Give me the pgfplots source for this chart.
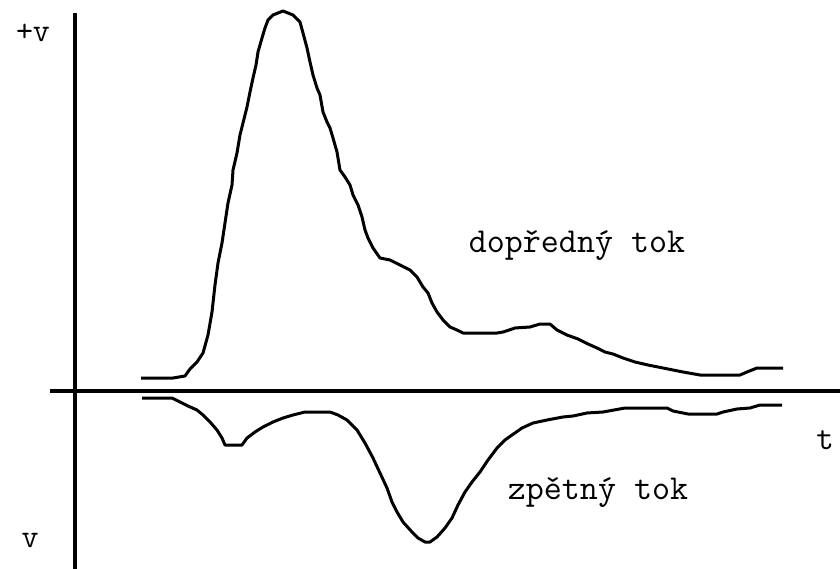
\documentclass[border=0pt]{standalone}
\usepackage{fontspec}
\setmainfont{Latin Modern Mono}
\usepackage{pgfplots}
\pgfplotsset{compat=1.18}
\begin{document}
\begin{tikzpicture}
\begin{axis}[
  scale only axis, width=840pt, height=569pt,
  xmin=0, xmax=840, ymin=0, ymax=569, y dir=reverse,
  hide axis, clip=true,
]
% axes
\addplot[black, line width=4pt] coordinates {(75,13) (75,575)};
\addplot[black, line width=4pt] coordinates {(50,391) (845,391)};
% forward flow
\addplot[black, line width=3pt, line join=round] coordinates {
(141,378) (173,378) (185,376) (190,369) (197,362) (203,353) (208,335) (212,312)
(215,285) (218,263) (222,243) (225,223) (228,203) (232,185) (233,170) (237,153)
(240,135) (243,123) (247,107) (250,92) (253,78) (256,65) (258,52) (262,38)
(265,28) (268,20) (273,15) (278,13) (283,11) (288,13) (293,15) (300,22)
(303,33) (307,48) (310,62) (313,75) (317,88) (320,95) (323,112) (327,122)
(330,128) (333,138) (337,152) (340,170) (345,177) (350,185) (353,195) (358,205)
(362,217) (365,230) (368,238) (373,248) (380,258) (390,260) (400,265) (410,270)
(417,277) (423,287) (428,293) (432,303) (437,312) (443,320) (450,327) (457,330)
(463,333) (497,333) (503,332) (515,328) (530,327) (540,324) (550,324) (557,330)
(567,335) (578,339) (588,344) (597,348) (605,352) (613,354) (623,358) (635,362)
(648,365) (663,368) (683,372) (700,375) (740,375) (747,372) (757,368) (783,368)
};
% reverse flow
\addplot[black, line width=3pt, line join=round] coordinates {
(142,398) (172,398) (180,402) (188,406) (197,410) (203,415) (210,422) (217,430)
(222,438) (225,445) (242,445) (247,438) (255,432) (263,427) (273,422) (283,418)
(293,415) (305,412) (330,412) (338,415) (347,420) (357,430) (365,443) (373,458)
(380,473) (387,488) (392,502) (397,512) (403,522) (412,532) (418,538) (425,542)
(430,542) (437,537) (445,528) (452,518) (458,505) (465,492) (472,482) (480,472)
(488,460) (497,448) (505,440) (512,435) (522,428) (533,423) (547,420) (563,417)
(573,416) (587,413) (603,412) (625,408) (667,408) (673,411) (688,414) (717,414)
(723,412) (737,409) (750,408) (760,405) (782,405)
};
\node[font=\fontsize{33}{33}\selectfont, inner sep=0pt] at (axis cs:33,33) {+v};
\node[font=\fontsize{33}{33}\selectfont, inner sep=0pt] at (axis cs:30,540) {v};
\node[font=\fontsize{34}{34}\selectfont, inner sep=0pt] at (axis cs:825,440) {t};
\node[font=\fontsize{35}{35}\selectfont, inner sep=0pt] at (axis cs:577,245) {dopředný tok};
\node[font=\fontsize{35}{35}\selectfont, inner sep=0pt] at (axis cs:598,492) {zpětný tok};
\end{axis}
\pgfresetboundingbox
\useasboundingbox (current axis.south west) rectangle (current axis.north east);
\end{tikzpicture}
\end{document}
